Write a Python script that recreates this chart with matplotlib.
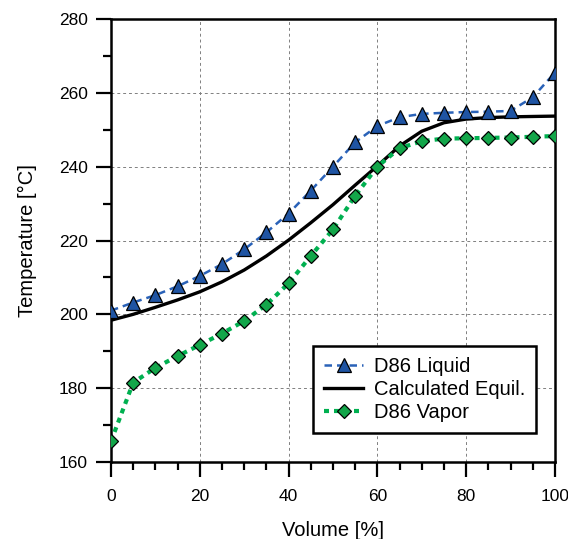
import numpy as np
import matplotlib.pyplot as plt
from matplotlib.ticker import MultipleLocator

plt.rcParams['font.family'] = ['Liberation Sans', 'DejaVu Sans']

# D86 distillation data
volume = [0, 5, 10, 15, 20, 25, 30, 35, 40, 45, 50, 55, 60, 65, 70, 75, 80, 85, 90, 95, 100]
t_liquid = [201.0, 203.2, 205.2, 207.6, 210.4, 213.6, 217.6, 222.2, 227.3, 233.5, 240.0,
            246.6, 251.0, 253.4, 254.3, 254.6, 254.8, 254.9, 255.1, 258.8, 265.5]
t_vapor = [165.6, 181.5, 185.5, 188.7, 191.7, 194.8, 198.2, 202.6, 208.4, 215.8, 223.0,
           232.1, 240.0, 245.0, 246.9, 247.6, 247.7, 247.8, 247.9, 248.1, 248.3]

# calculated equilibrium curve
vol_eq = [0, 5, 10, 15, 20, 25, 30, 35, 40, 45, 50, 55, 60, 65, 70, 75, 80, 85, 90, 95, 100]
t_eq = [198.4, 200.0, 201.9, 203.9, 206.1, 208.8, 212.0, 215.8, 220.1, 224.8, 229.7,
        235.0, 240.2, 245.6, 249.6, 251.9, 252.9, 253.3, 253.5, 253.6, 253.7]

fig = plt.figure(figsize=(5.68, 5.39), dpi=100)
ax = fig.add_axes([0.1954, 0.1429, 0.7816, 0.8218])

ax.plot(volume, t_liquid, linestyle=(0, (3, 2)), color='#2a62b8', lw=1.8,
        marker='^', markersize=9.5, markerfacecolor='#1f54a3', markeredgecolor='black',
        markeredgewidth=0.9, label='D86 Liquid', zorder=4)
ax.plot(vol_eq, t_eq, color='black', lw=2.4, label='Calculated Equil.', zorder=3)
ax.plot(volume, t_vapor, linestyle=(0, (1.2, 1.2)), color='#00b050', lw=3.0,
        marker='D', markersize=7, markerfacecolor='#13a64a', markeredgecolor='black',
        markeredgewidth=0.9, label='D86 Vapor', zorder=5)

ax.set_xlim(0, 100)
ax.set_ylim(160, 280)
ax.xaxis.set_major_locator(MultipleLocator(20))
ax.xaxis.set_minor_locator(MultipleLocator(5))
ax.yaxis.set_major_locator(MultipleLocator(20))
ax.yaxis.set_minor_locator(MultipleLocator(10))
ax.tick_params(which='major', direction='out', length=10.5, width=1.6, labelsize=12.5, pad=6)
ax.tick_params(axis='x', which='major', pad=9)
ax.tick_params(which='minor', direction='out', length=6, width=1.6)
for s in ax.spines.values():
    s.set_linewidth(1.8)
ax.grid(True, which='major', linestyle=(0, (3, 3)), color='#808080', lw=0.7)

ax.set_xlabel('Volume [%]', fontsize=14.5, labelpad=12)
ax.set_ylabel('Temperature [°C]', fontsize=14.5, labelpad=16)

leg = ax.legend(loc='lower right', bbox_to_anchor=(0.958, 0.066), fontsize=14.5,
                fancybox=False, framealpha=1, edgecolor='black', handlelength=1.9,
                borderpad=0.55, labelspacing=0.18, handletextpad=0.55, borderaxespad=0)
leg.get_frame().set_linewidth(1.8)

fig.savefig('out.png', dpi=100)
